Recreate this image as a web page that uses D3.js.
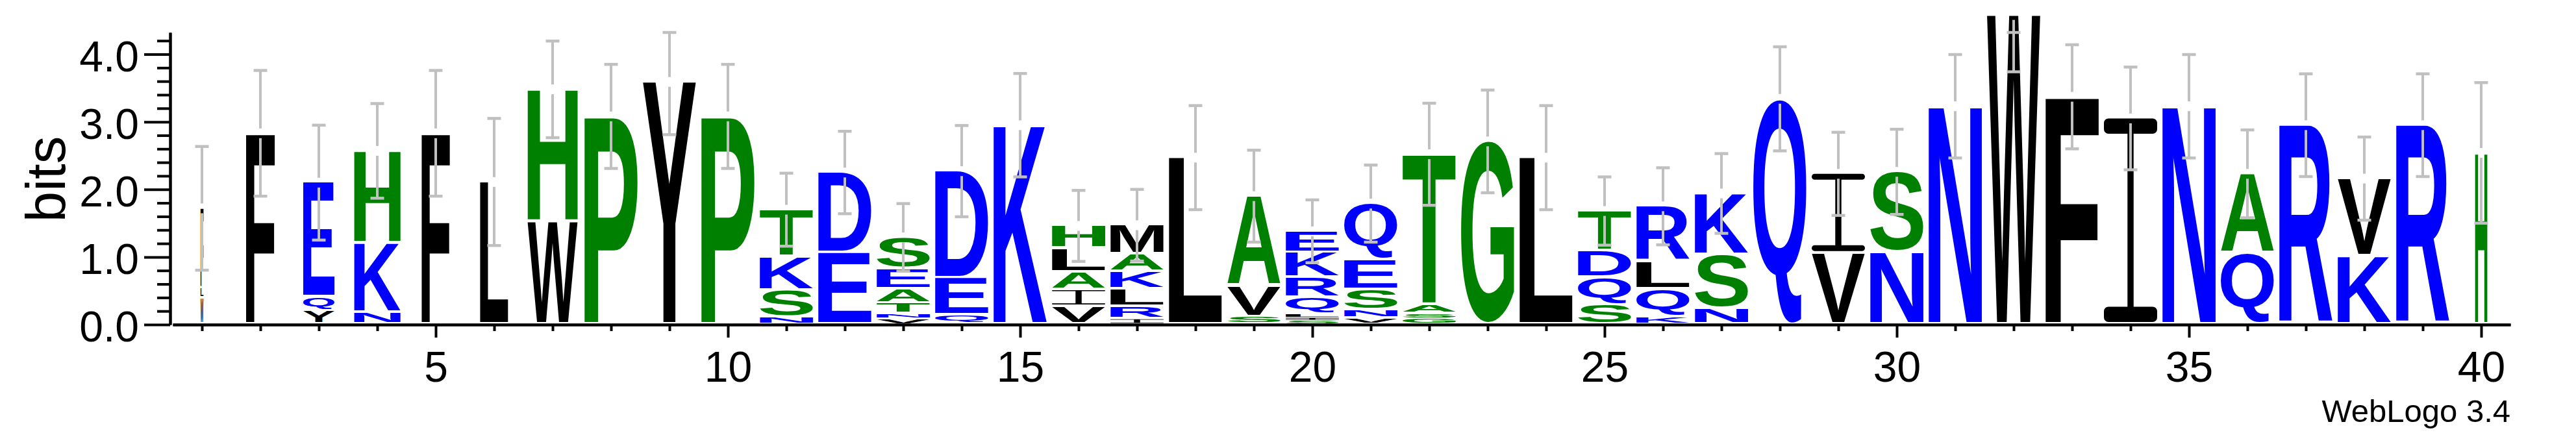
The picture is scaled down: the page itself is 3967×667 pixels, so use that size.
<!DOCTYPE html>
<html><head><meta charset="utf-8">
<script src="https://cdn.jsdelivr.net/npm/d3@7"></script>
<style>html,body{margin:0;padding:0;background:#fff;} svg{display:block;}</style>
</head><body>
<script>
// ---- data ----
const positions = d3.range(1, 41);
// fraction of sequences occupying each column (scales stack width)
const occupancy = [0.055,0.54,0.59,0.87,0.53,0.53,0.94,1,1,1,
                   1,1,1,1,1,1,1,1,1,1,
                   1,1,1,1,1,1,1,1,1,1,
                   1,1,1,1,1,1,1,1,1,0.23];
// residues of each stack, bottom to top
const residues = ["WLF","F","YQE","NKH","F","L","WH","P","Y","P",
                  "NSKT","ED","VNTAES","QED","K","VIALH","IRLKAM","L","SVA","SILQRKE",
                  "VNSEQ","GSAT","G","L","SQDT","KQLR","NSK","Q","VI","NS",
                  "N","W","F","I","N","QA","R","KV","R","H"];
// information (bits) carried by each residue, bottom to top
const bits = [[0.38,0.15,1.19],[2.83],[0.20,0.20,1.70],[0.17,1.03,1.37],[2.83],[2.11],[1.52,1.96],[3.08],[3.59],[3.08],
              [0.10,0.40,0.50,0.70],[1.06,1.19],[0.08,0.07,0.16,0.21,0.30,0.47],[0.13,0.55,1.59],[2.95],[0.26,0.25,0.26,0.35,0.34],[0.08,0.18,0.26,0.26,0.26,0.43],[2.47],[0.11,0.46,1.33],[0.06,0.04,0.05,0.24,0.30,0.37,0.32],
              [0.09,0.12,0.30,0.44,0.84],[0.09,0.065,0.135,2.23],[2.71],[2.47],[0.29,0.40,0.40,0.59],[0.11,0.41,0.41,0.82],[0.23,0.80,0.91],[3.34],[1.05,1.18],[1.07,1.19],
              [3.23],[4.58],[3.37],[3.05],[3.23],[1.05,1.18],[2.95],[1.01,1.15],[2.95],[2.54]];
// error bar half-widths (bits)
const errors = [0.915,0.93,0.85,0.70,0.93,0.94,0.715,0.77,0.78,0.77,
                0.54,0.61,0.50,0.675,0.765,0.525,0.53,0.77,0.68,0.465,
                0.57,0.755,0.76,0.77,0.505,0.57,0.59,0.77,0.615,0.63,
                0.765,0.84,0.77,0.76,0.765,0.65,0.76,0.615,0.76,1.04];
const yMajorTicks = [0, 1, 2, 3, 4];
const yMinorTicks = d3.range(0, 4.21, 0.2).filter(v => Math.abs(v - Math.round(v)) > 1e-6);
const xMajorTicks = [5, 10, 15, 20, 25, 30, 35, 40];
const yMax = Math.log2(20);

// hydrophobicity colour scheme
const colorOf = ch => "RKDENQ".includes(ch) ? "#0000ff" : ("SGHTAP".includes(ch) ? "#008000" : "#000000");

// ---- layout ----
const W = 3967, H = 667;
const FONT = '"Liberation Sans", Arial, Helvetica, sans-serif';
const svg = d3.select("body").append("svg").attr("width", W).attr("height", H)
  .style("background", "#fff");

const x = d3.scaleLinear().domain([0.5, 40.5]).range([266, 3866]);
const y = d3.scaleLinear().domain([0, yMax]).range([500, 50]);
const stackW = (x(2) - x(1)) * 0.911;

// glyph ink metrics via canvas
const ctx = document.createElement("canvas").getContext("2d");
const FS = 200;
ctx.font = `bold ${FS}px ${FONT}`;
const mcache = {};
function metric(ch) {
  if (!mcache[ch]) {
    const m = ctx.measureText(ch);
    mcache[ch] = {l: m.actualBoundingBoxLeft, r: m.actualBoundingBoxRight,
                  a: m.actualBoundingBoxAscent, d: m.actualBoundingBoxDescent};
  }
  return mcache[ch];
}

const glyphs = [];
const tops = [];
positions.forEach((p, i) => {
  let cum = 0;
  const w = stackW * occupancy[i];
  residues[i].split("").forEach((ch, j) => {
    const b = bits[i][j];
    const yTop = y(cum + b), yBot = y(cum);
    const slot = yBot - yTop;
    const gap = Math.min(4, slot * 0.3);
    glyphs.push({ch, x0: x(p) - w / 2, w, y0: yTop, h: slot - gap});
    cum += b;
  });
  tops.push({p, top: cum, err: errors[i]});
});

const gLetters = svg.append("g");
gLetters.selectAll("text")
  .data(glyphs.filter(g => g.ch !== "I" && g.h > 0.3))
  .join("text")
  .attr("font-family", FONT).attr("font-weight", "bold").attr("font-size", FS)
  .attr("fill", d => colorOf(d.ch))
  .attr("transform", d => {
    const m = metric(d.ch);
    const sx = d.w / (m.l + m.r), sy = d.h / (m.a + m.d);
    return `translate(${d.x0},${d.y0}) scale(${sx},${sy}) translate(${m.l},${m.a})`;
  })
  .text(d => d.ch);

// serif "I" glyphs
const iG = gLetters.selectAll("g.iglyph")
  .data(glyphs.filter(g => g.ch === "I" && g.h > 0.3))
  .join("g").attr("class", "iglyph").attr("fill", d => colorOf(d.ch));
iG.each(function(d) {
  const g = d3.select(this);
  const bar = Math.max(0.8, d.h * 0.075);
  const rx = Math.min(bar / 2, 7);
  g.append("rect").attr("x", d.x0).attr("y", d.y0).attr("width", d.w).attr("height", bar).attr("rx", rx);
  g.append("rect").attr("x", d.x0).attr("y", d.y0 + d.h - bar).attr("width", d.w).attr("height", bar).attr("rx", rx);
  const sw = Math.max(1, d.w * 0.115);
  g.append("rect").attr("x", d.x0 + d.w / 2 - sw / 2).attr("y", d.y0 + bar / 2).attr("width", sw).attr("height", Math.max(0, d.h - bar));
});

// error bars
const EG = 7.5, CAP = 10.5, ECOL = "#c0c0c0";
const gErr = svg.append("g").attr("stroke", ECOL).attr("stroke-width", 4);
tops.forEach(t => {
  const cx = x(t.p);
  const lo = Math.max(0, t.top - t.err), hi = Math.min(yMax, t.top + t.err);
  const yt = y(t.top);
  if (y(lo) > yt + EG) gErr.append("line").attr("x1", cx).attr("x2", cx).attr("y1", yt + EG).attr("y2", y(lo));
  if (y(hi) < yt - EG) gErr.append("line").attr("x1", cx).attr("x2", cx).attr("y1", y(hi)).attr("y2", yt - EG);
  gErr.append("line").attr("x1", cx - CAP).attr("x2", cx + CAP).attr("y1", y(lo)).attr("y2", y(lo)).attr("stroke-width", 4.5);
  gErr.append("line").attr("x1", cx - CAP).attr("x2", cx + CAP).attr("y1", y(hi)).attr("y2", y(hi)).attr("stroke-width", 4.5);
});

// axes
function styleAxis(g, fs) {
  g.selectAll("path.domain").attr("stroke", "#000").attr("stroke-width", 4);
  g.selectAll(".tick line").attr("stroke", "#000").attr("stroke-width", 4);
  g.selectAll(".tick text").attr("fill", "#000").attr("font-family", FONT).attr("font-size", fs);
  g.attr("font-family", FONT).attr("font-size", fs);
}
const yAxMinor = svg.append("g").attr("transform", "translate(262,0)")
  .call(d3.axisLeft(y).tickValues(yMinorTicks).tickSize(20).tickSizeOuter(0).tickFormat(""));
styleAxis(yAxMinor, 66);
const yAx = svg.append("g").attr("transform", "translate(262,0)")
  .call(d3.axisLeft(y).tickValues(yMajorTicks).tickSize(40).tickSizeOuter(0).tickPadding(8).tickFormat(d3.format(".1f")));
styleAxis(yAx, 66);
yAx.selectAll(".tick text").attr("dy", "0.39em");

const xAxMinor = svg.append("g").attr("transform", "translate(0,500)")
  .call(d3.axisBottom(x).tickValues(positions.filter(p => p % 5 !== 0)).tickSize(10).tickSizeOuter(0).tickFormat(""));
styleAxis(xAxMinor, 66);
const xAx = svg.append("g").attr("transform", "translate(0,500)")
  .call(d3.axisBottom(x).tickValues(xMajorTicks).tickSize(20).tickSizeOuter(0).tickPadding(21).tickFormat(d3.format("d")));
styleAxis(xAx, 66);

svg.append("text").attr("transform", "translate(100,276) rotate(-90)")
  .attr("text-anchor", "middle").attr("font-family", FONT).attr("font-size", 85).text("bits");

svg.append("text").attr("x", 3866).attr("y", 650).attr("text-anchor", "end")
  .attr("font-family", FONT).attr("font-size", 49).text("WebLogo 3.4");
</script>
</body></html>
